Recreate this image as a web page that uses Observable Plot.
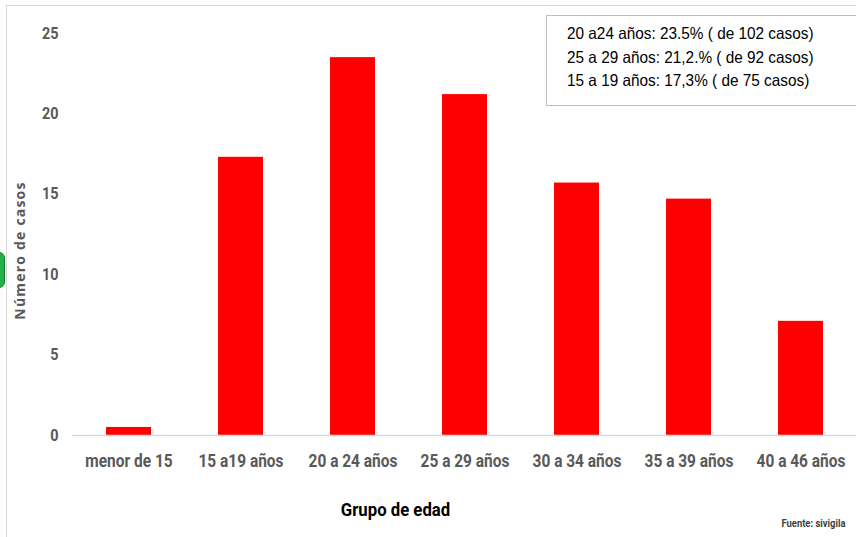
<!DOCTYPE html>
<html>
<head>
<meta charset="utf-8">
<script src="https://cdn.jsdelivr.net/npm/d3@7"></script>
<script src="https://cdn.jsdelivr.net/npm/@observablehq/plot@0.6"></script>
<style>
  html, body { margin: 0; padding: 0; background: #fff; overflow: hidden; }
  #wrap { position: relative; width: 856px; height: 537px; overflow: hidden; }
  #frame { position: absolute; left: 6px; top: 5px; width: 900px; height: 600px; border-left: 1px solid #d9d9d9; border-top: 1px solid #d9d9d9; }
  #legend { position: absolute; left: 546px; top: 15px; width: 330px; height: 91px; border: 1.5px solid #bfbfbf; background: #fff;
    font-family: "Liberation Sans", Arial, sans-serif; font-size: 16.5px; color: #000; line-height: 23.5px; padding: 6px 0 0 20px; box-sizing: border-box; }
  #legend div { transform: scaleX(0.93); transform-origin: left center; white-space: nowrap; }
  #blob { position: absolute; left: -8px; top: 252px; width: 11px; height: 34px; border-radius: 6px; background: #22b14c; border: 1px solid #137a30; }
  #chart { position: absolute; left: 0; top: 0; }
</style>
</head>
<body>
<div id="wrap">
  <div id="frame"></div>
  <div id="blob"></div>
  <div id="chart"></div>
  <div id="legend"></div>
</div>
<script>
const categories = ["menor de 15", "15 a19 años", "20 a 24 años", "25 a 29 años", "30 a 34 años", "35 a 39 años", "40 a 46 años"];
const values = [0.5, 17.3, 23.5, 21.2, 15.7, 14.7, 7.1];
const yTicks = [0, 5, 10, 15, 20, 25];
const legendLines = [
  "20 a24 años: 23.5% ( de 102 casos)",
  "25 a 29 años: 21,2.% ( de 92 casos)",
  "15 a 19 años: 17,3% ( de 75 casos)"
];
const yTitle = "Número de casos";
const xTitle = "Grupo de edad";
const source = "Fuente: sivigila";

const data = categories.map((c, i) => ({category: c, value: values[i]}));
const font = "Roboto, 'Liberation Sans', sans-serif";

const chart = Plot.plot({
  width: 856,
  height: 537,
  marginTop: 33,
  marginBottom: 102,
  marginLeft: 72,
  marginRight: 0,
  style: {background: "transparent", overflow: "visible"},
  x: {domain: categories, paddingInner: 0.6, paddingOuter: 0.3, align: 0.5},
  y: {domain: [0, 25], ticks: yTicks},
  marks: [
    Plot.barY(data, {x: "category", y: "value", fill: "#ff0000"}),
    Plot.ruleY([0], {stroke: "#d9d9d9", strokeWidth: 1.5}),
    Plot.axisY({ticks: yTicks, tickSize: 0, tickPadding: 14, label: null,
      fontFamily: font, fontWeight: "bold", fontSize: 16, fill: "#595959", textAnchor: "end"}),
    Plot.axisX({tickSize: 0, tickPadding: 19, label: null,
      fontFamily: font, fontWeight: "bold", fontSize: 18, fill: "#595959"}),
    Plot.text([yTitle], {frameAnchor: "left", textAnchor: "middle", rotate: -90, dx: -52, dy: 16,
      fontFamily: "'Open Sans', sans-serif", fontWeight: "bold", fontSize: 14, fill: "#595959"}),
    Plot.text([xTitle], {frameAnchor: "bottom", textAnchor: "middle", dx: -69, dy: 80,
      fontFamily: font, fontWeight: "bold", fontSize: 18, fill: "#000"}),
    Plot.text([source], {frameAnchor: "bottom-right", dx: -11, dy: 91, textAnchor: "end",
      fontFamily: font, fontWeight: "bold", fontSize: 10.5, fill: "#404040"})
  ]
});
document.getElementById("chart").appendChild(chart);
document.getElementById("legend").innerHTML = legendLines.map(l => `<div>${l}</div>`).join("");

// condense the narrow-font texts horizontally
function condense(selector, k) {
  chart.querySelectorAll(selector).forEach(t => {
    const tr = t.getAttribute("transform") || "";
    t.setAttribute("transform", tr + ` scale(${k},1)`);
  });
}
condense('g[aria-label="x-axis tick label"] text', 0.86);
condense('g[aria-label="y-axis tick label"] text', 0.9);
chart.querySelectorAll('g[aria-label="text"] text').forEach(t => {
  if (t.textContent === yTitle) t.style.letterSpacing = "1.2px";
  if (t.textContent === xTitle) t.setAttribute("transform", (t.getAttribute("transform") || "") + " scale(0.93,1)");
  if (t.textContent === source) t.setAttribute("transform", (t.getAttribute("transform") || "") + " scale(0.9,1)");
});
</script>
</body>
</html>
